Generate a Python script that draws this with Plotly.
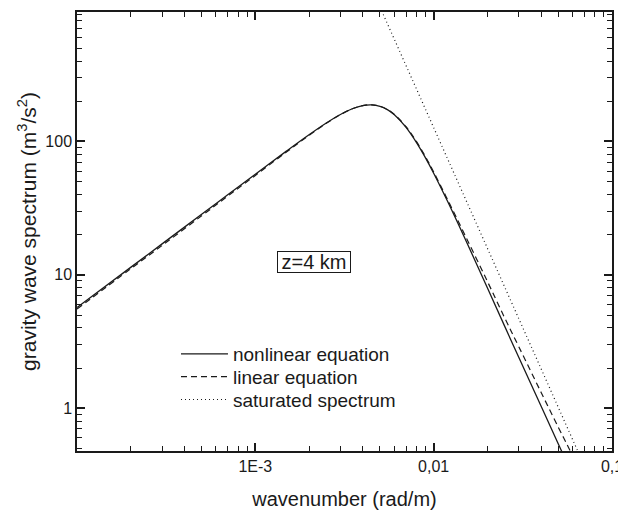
import plotly.graph_objects as go

# ---- data ----
k_nl = [1e-4, 2e-4, 3e-4, 5e-4, 7e-4, 1e-3, 1.5e-3, 2e-3, 2.5e-3, 3e-3, 3.5e-3, 4e-3,
        4.5e-3, 5e-3, 5.5e-3, 6e-3, 7e-3, 8e-3, 9e-3, 0.01, 0.012, 0.015, 0.02,
        0.025, 0.03, 0.04, 0.05, 0.055]
f_nonlinear = [5.69, 11.38, 17.07, 28.45, 39.82, 56.85, 84.96, 112.2, 137.5, 159.3,
               175.8, 185.6, 187.9, 183.3, 173.0, 159.1, 127.6, 98.5, 75.3, 57.8,
               35.3, 18.66, 8.0, 4.13, 2.41, 1.04, 0.54, 0.41]

k_lin = [1e-4, 2e-4, 3e-4, 5e-4, 7e-4, 1e-3, 1.5e-3, 2e-3, 2.5e-3, 3e-3, 3.5e-3, 4e-3,
         4.5e-3, 5e-3, 5.5e-3, 6e-3, 7e-3, 8e-3, 9e-3, 0.01, 0.012, 0.015, 0.02,
         0.025, 0.03, 0.04, 0.05, 0.055, 0.06]
f_linear = [5.55, 11.1, 16.6, 27.7, 38.9, 55.6, 83.6, 110.9, 136.6, 158.7, 175.6,
            185.6, 188.0, 183.6, 173.6, 160.0, 128.9, 100.0, 76.8, 59.0, 36.4, 19.8,
            8.95, 4.77, 2.90, 1.32, 0.72, 0.56, 0.445]

k_sat = [0.005, 0.006, 0.008, 0.01, 0.015, 0.02, 0.03, 0.04, 0.05, 0.06, 0.065]
f_saturated = [1016, 588, 248, 127, 37.6, 15.9, 4.70, 1.98, 1.016, 0.588, 0.462]

x_tickvals = [1e-3, 1e-2, 1e-1]
x_ticktext = ["1E-3", "0,01", "0,1"]
y_tickvals = [1, 10, 100]
y_ticktext = ["1", "10", "100"]

FONT = "Liberation Sans, Arial, sans-serif"
INK = "#1a1a1a"

fig = go.Figure()
fig.add_trace(go.Scatter(x=k_nl, y=f_nonlinear, mode="lines", name="nonlinear equation",
                         line=dict(color=INK, width=1.3, shape="spline"), legend="legend",
                         showlegend=True))
fig.add_trace(go.Scatter(x=k_lin, y=f_linear, mode="lines", name="linear equation",
                         line=dict(color=INK, width=1.2, dash="6px,4px", shape="spline"),
                         legend="legend2", showlegend=True))
fig.add_trace(go.Scatter(x=k_sat, y=f_saturated, mode="lines", name="saturated spectrum",
                         line=dict(color=INK, width=1.2, dash="1px,3px"), legend="legend3",
                         showlegend=True))

minor_x = [m * 10.0 ** e for e in (-4, -3, -2) for m in range(2, 10)]
minor_y = [m * 10.0 ** e for e in (-1, 0, 1, 2) for m in range(2, 10)]

fig.update_xaxes(type="log", range=[-4, -1], showgrid=False, zeroline=False,
                 showline=True, linecolor=INK, linewidth=1.5, mirror="allticks",
                 ticks="inside", ticklen=8, tickwidth=1.5, tickcolor=INK,
                 tickvals=x_tickvals, ticktext=x_ticktext,
                 tickfont=dict(family=FONT, size=16, color=INK),
                 minor=dict(tickvals=minor_x, ticks="inside", ticklen=5, tickwidth=1.2,
                            tickcolor=INK, showgrid=False),
                 title=dict(text="wavenumber (rad/m)", font=dict(family=FONT, size=20, color=INK),
                            standoff=18))
fig.update_yaxes(type="log", range=[-0.32, 2.97], showgrid=False, zeroline=False,
                 showline=True, linecolor=INK, linewidth=1.5, mirror="allticks",
                 ticks="inside", ticklen=8, tickwidth=1.5, tickcolor=INK,
                 tickvals=y_tickvals, ticktext=y_ticktext,
                 tickfont=dict(family=FONT, size=16, color=INK),
                 minor=dict(tickvals=minor_y, ticks="inside", ticklen=5, tickwidth=1.2,
                            tickcolor=INK, showgrid=False),
                 title=dict(text="gravity wave spectrum (m<sup>3</sup>/s<sup>2</sup>)",
                            font=dict(family=FONT, size=21, color=INK), standoff=3))

fig.add_annotation(x=0.443, y=0.43, xref="paper", yref="paper", text="z=4 km",
                   showarrow=False, font=dict(family=FONT, size=20, color=INK),
                   width=70, height=18, bordercolor=INK, borderwidth=1, borderpad=1,
                   bgcolor="white")

leg_common = dict(x=0.185, xanchor="left", yanchor="middle", bgcolor="rgba(0,0,0,0)",
                  borderwidth=0, font=dict(family=FONT, size=19, color=INK), itemwidth=47,
                  visible=True)

fig.update_layout(width=618, height=505, margin=dict(l=69, r=14, t=2, b=62),
                  plot_bgcolor="white", paper_bgcolor="white", showlegend=True,
                  font=dict(family=FONT, color=INK),
                  legend=dict(y=0.221, **leg_common),
                  legend2=dict(y=0.169, **leg_common),
                  legend3=dict(y=0.117, **leg_common))
fig.write_html("out.html")
